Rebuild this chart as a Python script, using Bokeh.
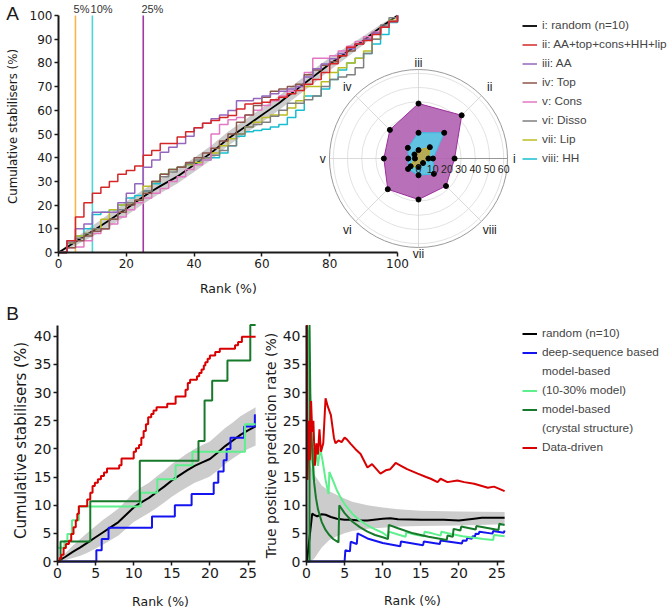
import math
from bokeh.plotting import figure
from bokeh.models import (Range1d, Legend, LegendItem, Label, LabelSet,
                          ColumnDataSource, FixedTicker)
from bokeh.layouts import column, row
from bokeh.embed import file_html
from bokeh.resources import INLINE
from bokeh.core.properties import value

# ---------------- Panel A data (cumulative stabilisers, %) ----------------
rank_a = [0, 2.5, 5, 7.5, 10, 12.5, 15, 17.5, 20, 22.5, 25, 27.5, 30, 32.5, 35, 37.5,
          40, 42.5, 45, 47.5, 50, 52.5, 55, 57.5, 60, 62.5, 65, 67.5, 70, 72.5, 75,
          77.5, 80, 82.5, 85, 87.5, 90, 92.5, 95, 97.5, 100]
random_a = [0, 2.2, 4.5, 6.8, 9, 11.3, 13.6, 16, 18.5, 21, 23.5, 25.8, 28, 30, 32, 34.5,
            37, 39.5, 42, 45, 48, 50.5, 53, 55.5, 58, 60.5, 63, 65.8, 68.5, 71.3, 74,
            76.8, 79.5, 82, 84.5, 87, 89.5, 92.3, 95, 97.5, 100]
random_a_lo = [0, 1.2, 3.0, 4.8, 6.7, 8.8, 10.9, 13.2, 15.5, 18, 20.5, 22.8, 25, 27, 29, 31.5,
               34, 36.5, 39, 42, 45, 47.5, 50, 52.5, 55, 57.5, 60, 62.8, 65.5, 68.3, 71,
               74, 76.8, 79.5, 82.2, 85, 87.7, 90.8, 93.8, 96.7, 100]
random_a_hi = [0, 3.2, 6.0, 8.8, 11.3, 13.8, 16.3, 18.8, 21.5, 24, 26.5, 28.8, 31, 33, 35, 37.5,
               40, 42.5, 45, 48, 51, 53.5, 56, 58.5, 61, 63.5, 66, 68.8, 71.5, 74.3, 77,
               79.6, 82.2, 84.5, 86.8, 89, 91.3, 93.8, 96.2, 98.3, 100]
combo_ii = [0, 5, 15, 21, 25, 27.5, 30, 33, 34.6, 36.5, 41, 43, 46, 46, 48.7, 51, 52.6, 54.5,
            55.7, 57, 57.8, 60.5, 62.7, 63, 63.4, 64.5, 65.5, 67, 68.4, 71, 73, 76, 79.6,
            83, 86.6, 88, 89.5, 92, 95, 97.5, 100]
aa_iii = [0, 5, 10, 12, 17, 17, 17, 21, 25, 29, 36, 39, 42.3, 44.4, 46, 49, 52.6, 54.5, 56.4,
          58, 59.9, 64, 64, 65, 66, 67, 68, 69, 70, 74, 77.5, 79.5, 81.7, 84, 86, 88, 90,
          92.5, 95, 97.5, 100]
top_iv = [0, 2, 5, 7, 9, 10, 14, 17, 20, 22, 25, 30, 33, 35, 36, 38, 40, 42, 44, 47, 50, 55,
          58, 62, 65.5, 68, 69, 70, 71, 75, 77, 79, 80.5, 83, 85, 88, 90, 92.5, 95, 97.5, 100]
cons_v = [0, 2, 2.3, 5, 8, 10, 12, 15, 18, 21, 23, 25, 27, 30, 32, 35, 37, 39, 50, 54, 56, 57,
          58, 60, 62, 64, 66, 68, 70, 76, 82, 82, 83, 85, 87, 89, 91, 93, 95, 97.5, 100]
disso_vi = [0, 4, 6, 8, 10, 10, 14, 18, 21, 22, 26, 30, 32, 34, 36, 37.5, 39, 40, 41, 43, 45,
            50, 53, 54, 55, 57.5, 60, 63, 63, 64.5, 66, 70, 73, 74, 75, 78, 84, 90, 96, 99, 100]
lip_vii = [0, 4, 7, 8, 10, 14, 18, 20, 21, 22, 28, 30, 33, 35, 36, 37, 38, 40, 42, 45, 48, 50,
           53, 55, 57, 58, 58, 61, 64, 70, 70, 72, 76, 78, 80, 82, 85, 90, 95, 98, 100]
hh_viii = [0, 5, 7, 10, 16, 17, 18, 20, 23, 24, 26, 29, 33, 35, 36, 37, 38, 39, 40, 42, 45, 49,
           51, 51.5, 52, 53, 54, 57, 60, 66, 66, 69, 73, 77, 80, 82, 84, 88, 92, 97, 100]
series_a_labels = ["ii: AA+top+cons+HH+lip", "iii: AA", "iv: Top", "v: Cons",
                   "vi: Disso", "vii: Lip", "viii: HH"]
random_a_label = "i: random (n=10)"

thresholds = [5, 10, 25]
threshold_labels = ["5%", "10%", "25%"]

# radar (true positives at threshold)
radar_axes = ["i", "ii", "iii", "iv", "v", "vi", "vii", "viii"]
radar_5 = [7.0, 11.3, 5.9, 4.0, 2.5, 7.8, 6.0, 4.5]
radar_10 = [10.2, 25.6, 18.1, 10.6, 7.2, 10.4, 11.8, 15.3]
radar_25 = [25.4, 43.0, 38.7, 28.5, 24.4, 30.6, 28.9, 27.4]
radar_rings = [10, 20, 30, 40, 50, 60]
radar_ring_labels = ["10", "20", "30", "40", "50", "60"]

# ---------------- Panel B data ----------------
rank_b = [0, 1, 2, 3, 4, 5, 6, 7, 8, 9, 10, 11, 12, 13, 14, 15, 16, 17, 18, 19, 20, 21, 22,
          23, 24, 25, 26]
random_b = [0, 0.8, 1.7, 2.5, 3.4, 4.3, 5.2, 6.1, 7.0, 8.3, 9.6, 10.5, 11.3, 12.3, 13.3, 14.4,
            15.3, 16.2, 17.0, 17.6, 18.2, 19.3, 20.5, 21.5, 22.5, 23.3, 24.0]
random_b_lo = [0, 0.2, 0.6, 1.0, 1.6, 2.3, 3.0, 3.8, 4.6, 5.8, 7.0, 7.8, 8.6, 9.5, 10.5, 11.5,
               12.4, 13.2, 14.0, 14.5, 15.1, 16.1, 17.3, 18.3, 19.2, 20.0, 20.6]
random_b_hi = [0, 1.4, 2.8, 4.0, 5.2, 6.3, 7.4, 8.4, 9.4, 10.8, 12.2, 13.2, 14.0, 15.1, 16.1,
               17.3, 18.2, 19.2, 20.0, 20.7, 21.3, 22.5, 23.7, 24.7, 25.8, 26.6, 27.4]

deep_x = [0, 5.1, 5.8, 6.7, 12.4, 15.4, 17.6, 20.5, 21.1, 21.8, 22.2, 22.7, 24.5, 25.9, 26]
deep_y = [0, 2, 4, 6, 8, 10, 12, 14, 16, 18, 20, 22, 24, 26, 26]
m10_x = [0, 0.9, 1.3, 1.9, 2.8, 10.9, 13.1, 15.5, 17.7, 24.6, 26]
m10_y = [2.44, 3.66, 4.88, 7.32, 9.76, 12.2, 14.6, 17.1, 19.5, 24.4, 24.4]
crys_x = [0, 0.4, 4.3, 10.8, 18.5, 19.3, 20.3, 22.3, 25.3, 26]
crys_y = [0, 3.57, 10.7, 17.9, 21.4, 28.6, 32.1, 35.7, 42.0, 42.0]
data_x = [0, 0.3, 0.5, 0.8, 1.1, 1.5, 1.8, 2.1, 2.4, 2.6, 2.8, 3.9, 4.3, 4.6, 4.9, 5.3, 5.7,
          6.1, 6.5, 8.1, 8.4, 10.0, 10.3, 10.7, 11.0, 11.3, 11.6, 11.9, 12.3, 12.6, 13.0,
          14.4, 15.5, 16.8, 17.1, 17.4, 18.3, 18.6, 18.9, 19.2, 19.4, 19.7, 20.0, 20.7,
          21.3, 23.3, 23.7, 24.2, 26]
data_y = [0, 0.6, 1.2, 2.4, 3.1, 3.7, 4.9, 6.1, 7.3, 8.5, 9.8, 11.0, 12.2, 13.4, 14.0, 14.6,
          15.2, 15.8, 16.5, 17.1, 18.3, 19.5, 20.1, 20.7, 22.0, 23.2, 24.4, 25.6, 26.2,
          26.8, 27.4, 28.0, 29.3, 30.5, 31.7, 32.3, 32.9, 33.5, 34.1, 34.8, 35.4, 36.0,
          36.6, 37.2, 37.8, 38.4, 39.0, 39.9, 39.9]

# true positive prediction rate (%)  (values above the axis top are read as 42)
tpr_rand_x = [0, 0.1, 0.3, 0.5, 0.75, 1, 1.4, 2, 2.5, 3.2, 4, 5, 5.8, 7, 8, 10, 11, 12, 15, 18,
              20, 22, 23, 26]
tpr_rand = [0, 0.5, 3, 5.5, 8.5, 8.3, 8.0, 8.4, 8.3, 7.9, 7.6, 7.4, 7.4, 7.3, 7.3, 7.6, 7.7,
            7.5, 7.4, 7.4, 7.3, 7.6, 7.75, 7.75]
tpr_band_x = [0.05, 0.2, 0.5, 1, 2, 3, 4, 5, 6, 8, 10, 12, 15, 20, 26]
tpr_band_lo = [0, 0, 0, 0.5, 2.5, 3.8, 4.5, 5.0, 5.4, 5.8, 6.0, 6.2, 6.3, 6.4, 6.6]
tpr_band_hi = [0, 19, 17, 15.5, 13.5, 12.5, 11.8, 11.2, 10.6, 10.0, 9.6, 9.3, 9.0, 8.9, 8.8]
tpr_deep_x = [0, 5.0, 5.1, 5.7, 5.8, 6.6, 6.7, 8.0, 10.0, 12.3, 12.4, 15.3, 15.4, 17.5, 17.6,
              20.4, 20.5, 21.0, 21.1, 21.7, 21.8, 22.1, 22.2, 22.6, 22.7, 24.4, 24.5, 25.9, 26.0]
tpr_deep = [0, 0, 2.0, 1.8, 3.5, 3.1, 5.0, 4.1, 3.3, 2.7, 3.55, 2.9, 3.57, 3.1, 3.75, 3.2,
            3.75, 3.67, 4.2, 4.05, 4.5, 4.45, 4.95, 4.9, 5.3, 4.95, 5.4, 5.1, 5.5]
tpr_m10_x = [0.05, 0.3, 0.5, 0.75, 0.9, 0.95, 1.2, 1.5, 1.8, 2.1, 2.5, 2.9, 3.0, 3.5, 4.0, 4.5,
             5.0, 6.0, 7.0, 8.0, 9.0, 10.0, 10.7, 10.8, 12.0, 13.0, 13.1, 14.2, 15.4, 15.5,
             16.5, 17.6, 17.7, 19.0, 20.5, 22.0, 23.2, 24.5, 24.6, 26.0]
tpr_m10 = [42, 40, 25, 18, 14.5, 20, 20, 17, 20, 18, 14.5, 12, 15.9, 14.3, 12.6, 11.3, 10.2,
           8.5, 7.3, 6.4, 5.7, 5.1, 4.4, 5.3, 4.8, 4.4, 5.2, 4.8, 4.5, 5.3, 5.0, 4.6, 5.3,
           4.9, 4.5, 4.2, 4.0, 3.8, 4.7, 4.5]
tpr_crys_x = [0, 0.4, 0.4, 0.5, 0.6, 0.75, 1.0, 1.25, 1.5, 2.0, 2.5, 3.0, 3.5, 4.2, 4.3, 5.0,
              6.0, 7.0, 8.0, 9.0, 10.0, 10.7, 10.8, 12.0, 14.0, 16.0, 18.4, 18.5, 19.2, 19.3,
              20.2, 20.3, 22.2, 22.3, 25.2, 25.3, 26.0]
tpr_crys = [0, 0, 42, 30, 25, 19.5, 14, 11.2, 9.3, 7.0, 5.6, 4.7, 4.0, 3.4, 10.0, 8.6, 7.1,
            6.1, 5.3, 4.7, 4.3, 4.0, 6.5, 5.9, 5.0, 4.4, 3.8, 4.6, 4.4, 5.8, 5.5, 6.2, 5.7,
            6.3, 5.6, 6.7, 6.5]
tpr_data_x = [0.05, 0.12, 0.3, 0.45, 0.6, 0.75, 0.9, 1.1, 1.3, 1.5, 1.7, 1.9, 2.2, 2.5, 2.8,
              3.2, 3.6, 3.8, 4.2, 4.6, 5.0, 5.3, 5.8, 6.4, 7.1, 8.0, 8.6, 9.7, 10.4, 11.0,
              11.7, 12.4, 13.2, 14.6, 15.7, 16.3, 17.2, 17.6, 18.5, 19.8, 20.7, 22.0, 23.8,
              24.6, 26.0]
tpr_data = [42, 14.5, 25, 18, 28.5, 23, 25, 17, 21, 19, 23.5, 19.5, 21, 29, 27.5, 26, 22, 21,
            21.5, 21.2, 22, 21.7, 20.9, 20, 19.1, 16.7, 17.3, 15.6, 16.2, 16.4, 17.5, 17,
            16.4, 15.6, 15, 14.7, 14.1, 14.7, 14.1, 14.4, 14.1, 13.8, 13.1, 13.3, 12.5]
# legend rows of panel B (two-line entries are split into two rows)
legend_b_rows = ["random (n=10)", "deep-sequence based", "model-based", "(10-30% model)",
                 "model-based", "(crystal structure)", "Data-driven"]

# ---------------- styles / geometry ----------------
AX_FONT = "DejaVu Sans"
LG_FONT = "Liberation Sans"
TXT = "#1a1a1a"
colors_a = ["#d62728", "#9467bd", "#8c564b", "#e377c2", "#7f7f7f", "#bcbd22", "#17becf"]
thr_colors = ["#f5b74e", "#4dd6d6", "#a23aa2"]
BAND = "#c6c6c6"
C_DEEP, C_M10, C_CRYS, C_DATA = "#1414f0", "#5ef08c", "#177a2b", "#d80000"
W = 668


def full_frame_fig(width, height, x0, y0, px, py):
    """Figure whose frame is the whole canvas; (x0, y0) = pixel of data origin."""
    p = figure(width=width, height=height,
               x_range=Range1d(-x0 / px, (width - x0) / px),
               y_range=Range1d((y0 - height) / py, y0 / py),
               output_backend="svg", toolbar_location=None,
               min_border_left=0, min_border_right=0, min_border_top=0, min_border_bottom=0)
    p.xgrid.visible = False
    p.ygrid.visible = False
    p.outline_line_color = None
    p.background_fill_color = None
    p.border_fill_color = None
    p.xaxis.fixed_location = 0
    p.yaxis.fixed_location = 0
    return p


def style_axes(p, tick_size):
    for ax in p.axis:
        ax.axis_line_width = 2
        ax.axis_line_color = TXT
        ax.major_tick_line_width = 1.5
        ax.major_tick_line_color = TXT
        ax.major_tick_out = 4
        ax.major_tick_in = 0
        ax.minor_tick_line_color = None
        ax.major_label_text_font = AX_FONT
        ax.major_label_text_font_size = tick_size
        ax.major_label_text_color = TXT
        ax.major_label_standoff = 2


def text(p, x, y, t, size, font=AX_FONT, angle=0.0, align="center", **kw):
    p.add_layout(Label(x=x, y=y, text=t, text_align=align, text_baseline="middle",
                       text_font=font, text_font_size=size, text_color=TXT,
                       angle=angle, **kw))


# ================= Panel A =================
X0A, Y0A, PXA, PYA, HA = 58, 252, 3.39, 2.37, 300
p_a = full_frame_fig(W, HA, X0A, Y0A, PXA, PYA)
style_axes(p_a, "12px")
p_a.xaxis.bounds = (0, 100)
p_a.yaxis.bounds = (0, 100)
p_a.xaxis.ticker = FixedTicker(ticks=[0, 20, 40, 60, 80, 100])
p_a.yaxis.ticker = FixedTicker(ticks=list(range(0, 101, 10)))

p_a.segment(x0=thresholds, y0=[0] * 3, x1=thresholds, y1=[100] * 3,
            line_color=thr_colors, line_width=1.6)
thr_src = ColumnDataSource(dict(x=[t - 0.55 for t in thresholds], y=[102.95] * 3,
                                t=threshold_labels))
p_a.add_layout(LabelSet(x="x", y="y", text="t", source=thr_src, text_align="left",
                        text_baseline="middle", text_font=value(LG_FONT),
                        text_font_size=value("11px"), text_color="#333333"))

band_a = p_a.varea(x=rank_a, y1=random_a_lo, y2=random_a_hi, fill_color=BAND, fill_alpha=0.9)
band_a_leg = p_a.line(x=[], y=[], line_color=BAND, line_width=6)
rand_a = p_a.line(rank_a, random_a, line_color="black", line_width=1.8)
a_series = [combo_ii, aa_iii, top_iv, cons_v, disso_vi, lip_vii, hh_viii]
a_renderers = []
for ys, c in zip(reversed(a_series), reversed(colors_a)):
    a_renderers.append(p_a.step(rank_a, ys, mode="after", line_color=c, line_width=1.5))
a_renderers = list(reversed(a_renderers))

items_a = [LegendItem(label=random_a_label, renderers=[band_a_leg, rand_a])]
for lab, r in zip(series_a_labels, a_renderers):
    items_a.append(LegendItem(label=lab, renderers=[r]))
leg_a = Legend(items=items_a, location=(522, HA - 165.5), label_text_font=LG_FONT,
               label_text_font_size="11.8px", glyph_width=15, glyph_height=15,
               label_height=15, spacing=4, padding=0, margin=0, label_standoff=5,
               background_fill_alpha=0, border_line_alpha=0)
p_a.add_layout(leg_a)

text(p_a, 50.1, (Y0A - 288) / PYA, "Rank (%)", "12.5px")
text(p_a, (12 - X0A) / PXA, (Y0A - 126) / PYA, "Cumulative stabilisers (%)", "11.8px",
     angle=math.pi / 2)
text(p_a, (12 - X0A) / PXA, (Y0A - 13) / PYA, "A", "19px", font=LG_FONT)

# ---- radar inside panel A ----
RPX = 1.42
RCX, RCY = 418, 158
p_a.extra_x_ranges = {"rx": Range1d(-RCX / RPX, (W - RCX) / RPX)}
p_a.extra_y_ranges = {"ry": Range1d((RCY - HA) / RPX, RCY / RPX)}
RMAX = 62.7
angles = [i * math.pi / 4 for i in range(8)]
kw = dict(x_range_name="rx", y_range_name="ry")
p_a.circle(x=[0] * len(radar_rings), y=[0] * len(radar_rings), radius=radar_rings,
           fill_color=None, line_color="#dadada", line_width=0.8, **kw)
p_a.segment(x0=[0] * 8, y0=[0] * 8, x1=[RMAX * math.cos(a) for a in angles],
            y1=[RMAX * math.sin(a) for a in angles], line_color="#d0d0d0", line_width=0.8, **kw)
p_a.segment(x0=[0], y0=[0], x1=[RMAX], y1=[0], line_color="#909090", line_width=0.9, **kw)
p_a.circle(x=[0], y=[0], radius=[RMAX], fill_color=None, line_color="#9a9a9a", line_width=1, **kw)

poly_styles = [(radar_25, "#b468b4", "#9c2f9c"), (radar_10, "#5cc6e3", "#38bfe6"),
               (radar_5, "#bca94f", "#d0b000")]
for vals, fc, lc in poly_styles:
    xs = [v * math.cos(a) for v, a in zip(vals, angles)]
    ys = [v * math.sin(a) for v, a in zip(vals, angles)]
    p_a.patch(xs, ys, fill_color=fc, fill_alpha=0.95, line_color=lc, line_width=1, **kw)
for vals, fc, lc in poly_styles:
    xs = [v * math.cos(a) for v, a in zip(vals, angles)]
    ys = [v * math.sin(a) for v, a in zip(vals, angles)]
    p_a.scatter(xs, ys, size=5, color="black", **kw)

lab_r = [67.5 if i % 2 == 0 else 71 for i in range(8)]
spoke_src = ColumnDataSource(dict(x=[r * math.cos(a) for r, a in zip(lab_r, angles)],
                                  y=[r * math.sin(a) for r, a in zip(lab_r, angles)],
                                  t=radar_axes))
p_a.add_layout(LabelSet(x="x", y="y", text="t", source=spoke_src, text_align="center",
                        text_baseline="middle", text_font=value(LG_FONT),
                        text_font_size=value("12px"), text_color="#222222", **kw))
ring_src = ColumnDataSource(dict(x=[0] + radar_rings, y=[-7.2] * 7, t=["0"] + radar_ring_labels))
p_a.add_layout(LabelSet(x="x", y="y", text="t", source=ring_src, text_align="center",
                        text_baseline="middle", text_font=value(LG_FONT),
                        text_font_size=value("10.5px"), text_color="#222222", **kw))

# ================= Panel B (left) =================
HB = 310
PXB, PYB, Y0B = 7.62, 5.63, 561 - HA
p_b1 = full_frame_fig(262, HB, 57, Y0B, PXB, PYB)
style_axes(p_b1, "14px")
p_b1.xaxis.bounds = (0, 26)
p_b1.yaxis.bounds = (0, 42)
p_b1.xaxis.ticker = FixedTicker(ticks=[0, 5, 10, 15, 20, 25])
p_b1.yaxis.ticker = FixedTicker(ticks=list(range(0, 41, 5)))
p_b1.varea(x=rank_b, y1=random_b_lo, y2=random_b_hi, fill_color=BAND, fill_alpha=0.9)
p_b1.line(rank_b, random_b, line_color="black", line_width=2)
p_b1.step(deep_x, deep_y, mode="after", line_color=C_DEEP, line_width=2)
p_b1.step(m10_x, m10_y, mode="after", line_color=C_M10, line_width=2)
p_b1.step(crys_x, crys_y, mode="after", line_color=C_CRYS, line_width=2)
p_b1.step(data_x, data_y, mode="after", line_color=C_DATA, line_width=2)
text(p_b1, (160 - 57) / PXB, (561 - 601) / PYB, "Rank (%)", "12.5px")
text(p_b1, (20 - 57) / PXB, (561 - 440) / PYB, "Cumulative stabilisers (%)", "15px",
     angle=math.pi / 2)
text(p_b1, (12 - 57) / PXB, (561 - 313) / PYB, "B", "19px", font=LG_FONT)

# ================= Panel B (right) =================
WB2 = W - 262
p_b2 = full_frame_fig(WB2, HB, 306 - 262, Y0B, PXB, PYB)
style_axes(p_b2, "14px")
p_b2.xaxis.bounds = (0, 26)
p_b2.yaxis.bounds = (0, 42)
p_b2.xaxis.ticker = FixedTicker(ticks=[0, 5, 10, 15, 20, 25])
p_b2.yaxis.ticker = FixedTicker(ticks=list(range(0, 41, 5)))
p_b2.varea(x=tpr_band_x, y1=tpr_band_lo, y2=tpr_band_hi, fill_color=BAND, fill_alpha=0.9)
band_b_leg = p_b2.line(x=[], y=[], line_color=BAND, line_width=6)
no_glyph = p_b2.line(x=[], y=[], line_alpha=0)
r_rand = p_b2.line(tpr_rand_x, tpr_rand, line_color="black", line_width=2)
r_deep = p_b2.line(tpr_deep_x, tpr_deep, line_color=C_DEEP, line_width=2)
r_m10 = p_b2.line(tpr_m10_x, tpr_m10, line_color=C_M10, line_width=2)
r_crys = p_b2.line(tpr_crys_x, tpr_crys, line_color=C_CRYS, line_width=2)
r_data = p_b2.line(tpr_data_x, tpr_data, line_color=C_DATA, line_width=2)
text(p_b2, (412 - 306) / PXB, (561 - 600) / PYB, "Rank (%)", "12.5px")
text(p_b2, (270 - 306) / PXB, (561 - 445) / PYB, "True positive prediction rate (%)", "14px",
     angle=math.pi / 2)
row_renderers = [[band_b_leg, r_rand], [r_deep], [no_glyph], [r_m10],
                 [r_crys], [no_glyph], [r_data]]
items_b = [LegendItem(label=lab, renderers=rr) for lab, rr in zip(legend_b_rows, row_renderers)]
ROW_H = 19
leg_b = Legend(items=items_b,
               location=(522 - 262, HB - (333 - ROW_H / 2 + 7 * ROW_H - HA)),
               label_text_font=LG_FONT, label_text_font_size="11.8px",
               glyph_width=15, glyph_height=15, label_height=ROW_H, spacing=0,
               padding=0, margin=0, label_standoff=5,
               background_fill_alpha=0, border_line_alpha=0)
p_b2.add_layout(leg_b)

layout = column(p_a, row(p_b1, p_b2))
open("out.html", "w").write(file_html(layout, INLINE))
